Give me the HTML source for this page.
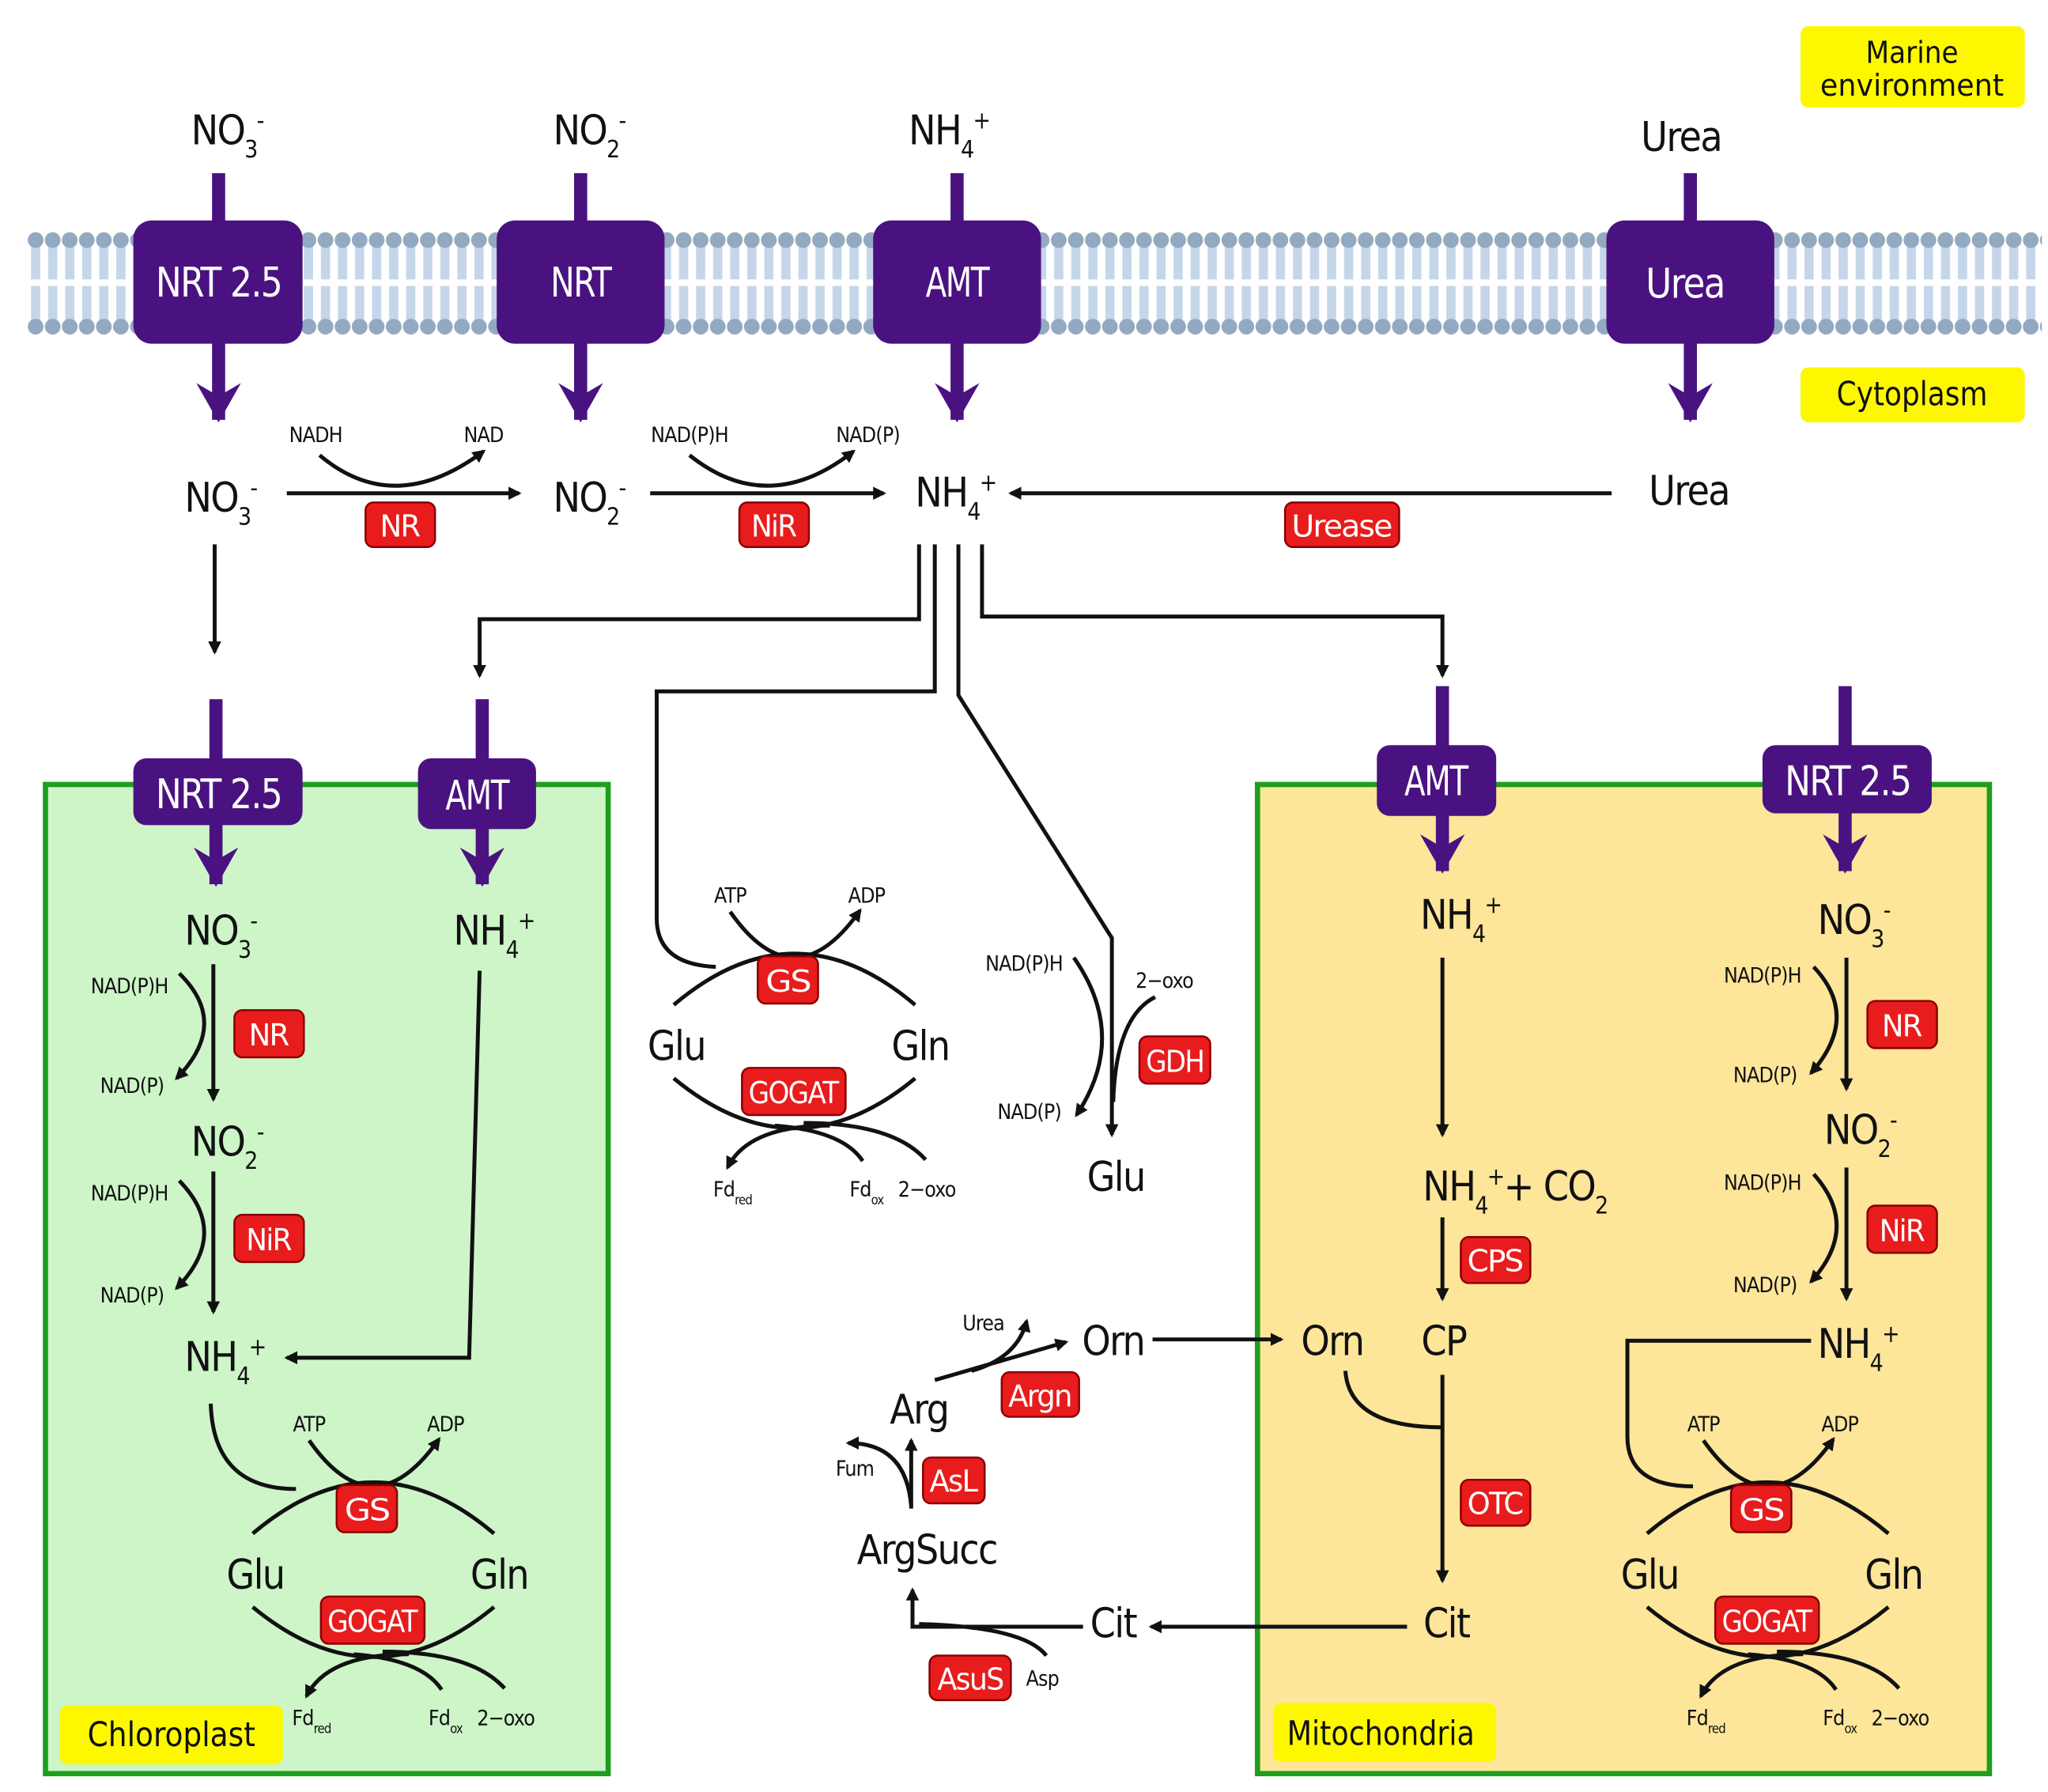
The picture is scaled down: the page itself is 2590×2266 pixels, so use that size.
<!DOCTYPE html>
<html><head><meta charset="utf-8"><style>
html,body{margin:0;padding:0;background:#fff}
svg{display:block}
text{font-family:"DejaVu Sans Condensed","Liberation Sans Narrow","Liberation Sans",sans-serif;font-stretch:condensed;fill:#111}
.b{font-size:31px;letter-spacing:-1px}
.s{font-size:16px;letter-spacing:-0.5px}
.w{fill:#fff;font-size:23px;letter-spacing:-1px}
.p{fill:#fff;font-size:31px;letter-spacing:-1px}
</style></head><body>
<svg width="2590" height="2266" viewBox="0 0 1560 1366" xmlns="http://www.w3.org/2000/svg">
<defs>
<marker id="a" markerWidth="10" markerHeight="10" refX="8" refY="5" orient="auto" markerUnits="userSpaceOnUse"><path d="M0,0 L10,5 L0,10 Z" fill="#111"/></marker>
<marker id="pa" markerWidth="34" markerHeight="30" refX="17" refY="28" orient="0" markerUnits="userSpaceOnUse"><path d="M0,0 L17,10 L34,0 L17,30 Z" fill="#4a1280"/></marker>
<pattern id="mem" x="20" y="176" width="13" height="80" patternUnits="userSpaceOnUse">
<rect x="3" y="8" width="7" height="64" fill="#c5d6ea"/>
<rect x="0" y="37" width="13" height="5" fill="#fff"/>
<circle cx="6.5" cy="7" r="6" fill="#93a9c2"/>
<circle cx="6.5" cy="73" r="6" fill="#93a9c2"/>
</pattern>
<g id="cyc">
<path d="M513 766 Q605 688 697 766" fill="none" stroke="#111" stroke-width="3"/>
<path d="M513 822 Q605 898 697 822" fill="none" stroke="#111" stroke-width="3"/>
<path d="M556 695 Q605 765 655 694" fill="none" stroke="#111" stroke-width="3" marker-end="url(#a)"/>
<path d="M632 858 Q570 858 554 890" fill="none" stroke="#111" stroke-width="3" marker-end="url(#a)"/>
<path d="M590 858 Q642 862 657 885" fill="none" stroke="#111" stroke-width="3"/>
<path d="M612 856 Q680 856 705 884" fill="none" stroke="#111" stroke-width="3"/>
<rect x="577" y="729" width="46" height="36" rx="6" fill="#e81c1c" stroke="#8a0000" stroke-width="1.5"/>
<text x="600" y="756" class="w" text-anchor="middle" textLength="34" lengthAdjust="spacingAndGlyphs">GS</text>
<rect x="565" y="814" width="79" height="36" rx="6" fill="#e81c1c" stroke="#8a0000" stroke-width="1.5"/>
<text x="604" y="841" class="w" text-anchor="middle" textLength="68" lengthAdjust="spacingAndGlyphs">GOGAT</text>
<text x="515" y="808" class="b" text-anchor="middle">Glu</text>
<text x="701" y="808" class="b" text-anchor="middle">Gln</text>
<text x="556" y="688" class="s" text-anchor="middle">ATP</text>
<text x="660" y="688" class="s" text-anchor="middle">ADP</text>
<text x="543" y="912" class="s">Fd<tspan font-size="10" dy="6">red</tspan></text>
<text x="647" y="912" class="s">Fd<tspan font-size="10" dy="6">ox</tspan></text>
<text x="684" y="912" class="s">2−oxo</text>
</g>
</defs>

<rect x="20" y="176" width="1536" height="80" fill="url(#mem)"/>

<rect x="1372" y="20" width="171" height="62" rx="6" fill="#fdf800"/>
<text x="1457" y="48" style="font-size:23px" text-anchor="middle">Marine</text>
<text x="1457" y="73" style="font-size:23px" text-anchor="middle" textLength="140" lengthAdjust="spacingAndGlyphs">environment</text>
<rect x="1372" y="280" width="171" height="42" rx="6" fill="#fdf800"/>
<text x="1457" y="309" style="font-size:25px" text-anchor="middle" textLength="115" lengthAdjust="spacingAndGlyphs">Cytoplasm</text>

<rect x="34" y="598" width="429" height="754" fill="#cdf5c8" stroke="#1d9e1d" stroke-width="4"/>
<rect x="958" y="598" width="558" height="754" fill="#fde59a" stroke="#1d9e1d" stroke-width="4"/>
<rect x="45" y="1300" width="170" height="45" rx="6" fill="#fdf800"/>
<text x="130" y="1331" style="font-size:26px" text-anchor="middle" textLength="128" lengthAdjust="spacingAndGlyphs">Chloroplast</text>
<rect x="970" y="1298" width="170" height="45" rx="6" fill="#fdf800"/>
<text x="1052" y="1330" style="font-size:26px" text-anchor="middle" textLength="143" lengthAdjust="spacingAndGlyphs">Mitochondria</text>

<g stroke="#4a1280" stroke-width="10" fill="none">
<line x1="166" y1="132" x2="166" y2="320" marker-end="url(#pa)"/>
<line x1="442" y1="132" x2="442" y2="320" marker-end="url(#pa)"/>
<line x1="729" y1="132" x2="729" y2="320" marker-end="url(#pa)"/>
<line x1="1288" y1="132" x2="1288" y2="320" marker-end="url(#pa)"/>
<line x1="164" y1="533" x2="164" y2="674" marker-end="url(#pa)"/>
<line x1="367" y1="533" x2="367" y2="674" marker-end="url(#pa)"/>
<line x1="1099" y1="523" x2="1099" y2="664" marker-end="url(#pa)"/>
<line x1="1406" y1="523" x2="1406" y2="664" marker-end="url(#pa)"/>
</g>
<g fill="#4a1280">
<rect x="101" y="168" width="129" height="94" rx="14"/>
<rect x="378" y="168" width="128" height="94" rx="14"/>
<rect x="665" y="168" width="128" height="94" rx="14"/>
<rect x="1224" y="168" width="128" height="94" rx="14"/>
<rect x="101" y="578" width="129" height="51" rx="10"/>
<rect x="318" y="578" width="90" height="54" rx="10"/>
<rect x="1049" y="568" width="91" height="54" rx="10"/>
<rect x="1343" y="568" width="129" height="52" rx="10"/>
</g>
<text x="166" y="226" class="p" text-anchor="middle" textLength="96" lengthAdjust="spacingAndGlyphs">NRT 2.5</text>
<text x="442" y="226" class="p" text-anchor="middle" textLength="46" lengthAdjust="spacingAndGlyphs">NRT</text>
<text x="729" y="226" class="p" text-anchor="middle" textLength="48" lengthAdjust="spacingAndGlyphs">AMT</text>
<text x="1284" y="227" class="p" text-anchor="middle" textLength="60" lengthAdjust="spacingAndGlyphs">Urea</text>
<text x="166" y="616" class="p" text-anchor="middle" textLength="96" lengthAdjust="spacingAndGlyphs">NRT 2.5</text>
<text x="363" y="617" class="p" text-anchor="middle" textLength="48" lengthAdjust="spacingAndGlyphs">AMT</text>
<text x="1094" y="606" class="p" text-anchor="middle" textLength="48" lengthAdjust="spacingAndGlyphs">AMT</text>
<text x="1408" y="606" class="p" text-anchor="middle" textLength="96" lengthAdjust="spacingAndGlyphs">NRT 2.5</text>

<text x="145" y="110" class="b">NO<tspan font-size="18" dy="10">3</tspan><tspan font-size="18" dy="-22">-</tspan></text>
<text x="421" y="110" class="b">NO<tspan font-size="18" dy="10">2</tspan><tspan font-size="18" dy="-22">-</tspan></text>
<text x="692" y="110" class="b">NH<tspan font-size="18" dy="10">4</tspan><tspan font-size="18" dy="-22">+</tspan></text>
<text x="1281" y="115" class="b" text-anchor="middle">Urea</text>

<text x="140" y="390" class="b">NO<tspan font-size="18" dy="10">3</tspan><tspan font-size="18" dy="-22">-</tspan></text>
<text x="421" y="390" class="b">NO<tspan font-size="18" dy="10">2</tspan><tspan font-size="18" dy="-22">-</tspan></text>
<text x="697" y="386" class="b">NH<tspan font-size="18" dy="10">4</tspan><tspan font-size="18" dy="-22">+</tspan></text>
<text x="1287" y="385" class="b" text-anchor="middle">Urea</text>
<g stroke="#111" stroke-width="3" fill="none">
<line x1="218" y1="376" x2="395" y2="376" marker-end="url(#a)"/>
<line x1="495" y1="376" x2="673" y2="376" marker-end="url(#a)"/>
<line x1="1228" y1="376" x2="770" y2="376" marker-end="url(#a)"/>
<path d="M243 347 Q300 395 368 344" marker-end="url(#a)"/>
<path d="M525 347 Q585 395 650 344" marker-end="url(#a)"/>
<line x1="163" y1="415" x2="163" y2="497" marker-end="url(#a)"/>
<path d="M700 415 V472 H365 V515" marker-end="url(#a)"/>
<path d="M712 415 V527 H500 V700 Q500 735 545 737"/>
<path d="M730 415 V530 L847 715 V865" marker-end="url(#a)"/>
<path d="M748 415 V470 H1099 V515" marker-end="url(#a)"/>
<path d="M818 730 Q860 790 820 850" marker-end="url(#a)"/>
<path d="M880 760 Q850 775 848 840"/>
</g>
<text x="240" y="337" class="s" text-anchor="middle">NADH</text>
<text x="368" y="337" class="s" text-anchor="middle">NAD</text>
<text x="525" y="337" class="s" text-anchor="middle">NAD(P)H</text>
<text x="661" y="337" class="s" text-anchor="middle">NAD(P)</text>
<g fill="#e81c1c" stroke="#8a0000" stroke-width="1.5">
<rect x="278" y="383" width="53" height="34" rx="6"/>
<rect x="563" y="383" width="53" height="34" rx="6"/>
<rect x="979" y="383" width="87" height="34" rx="6"/>
<rect x="868" y="790" width="54" height="36" rx="6"/>
<rect x="178" y="770" width="53" height="36" rx="6"/>
<rect x="178" y="926" width="53" height="36" rx="6"/>
<rect x="1423" y="763" width="53" height="36" rx="6"/>
<rect x="1423" y="919" width="53" height="36" rx="6"/>
<rect x="1113" y="943" width="53" height="35" rx="6"/>
<rect x="1113" y="1128" width="53" height="35" rx="6"/>
<rect x="763" y="1046" width="59" height="34" rx="6"/>
<rect x="703" y="1111" width="47" height="35" rx="6"/>
<rect x="708" y="1262" width="62" height="34" rx="6"/>
</g>
<text x="304" y="409" class="w" text-anchor="middle" textLength="30" lengthAdjust="spacingAndGlyphs">NR</text>
<text x="589" y="409" class="w" text-anchor="middle" textLength="34" lengthAdjust="spacingAndGlyphs">NiR</text>
<text x="1022" y="409" class="w" text-anchor="middle" textLength="76" lengthAdjust="spacingAndGlyphs">Urease</text>
<text x="895" y="817" class="w" text-anchor="middle" textLength="44" lengthAdjust="spacingAndGlyphs">GDH</text>
<text x="204" y="797" class="w" text-anchor="middle" textLength="30" lengthAdjust="spacingAndGlyphs">NR</text>
<text x="204" y="953" class="w" text-anchor="middle" textLength="34" lengthAdjust="spacingAndGlyphs">NiR</text>
<text x="1449" y="790" class="w" text-anchor="middle" textLength="30" lengthAdjust="spacingAndGlyphs">NR</text>
<text x="1449" y="946" class="w" text-anchor="middle" textLength="34" lengthAdjust="spacingAndGlyphs">NiR</text>
<text x="1139" y="969" class="w" text-anchor="middle" textLength="42" lengthAdjust="spacingAndGlyphs">CPS</text>
<text x="1139" y="1154" class="w" text-anchor="middle" textLength="42" lengthAdjust="spacingAndGlyphs">OTC</text>
<text x="792" y="1072" class="w" text-anchor="middle" textLength="48" lengthAdjust="spacingAndGlyphs">Argn</text>
<text x="726" y="1137" class="w" text-anchor="middle" textLength="36" lengthAdjust="spacingAndGlyphs">AsL</text>
<text x="739" y="1288" class="w" text-anchor="middle" textLength="50" lengthAdjust="spacingAndGlyphs">AsuS</text>

<use href="#cyc"/>
<text x="780" y="740" class="s" text-anchor="middle">NAD(P)H</text>
<text x="887" y="753" class="s" text-anchor="middle">2−oxo</text>
<text x="784" y="853" class="s" text-anchor="middle">NAD(P)</text>
<text x="850" y="908" class="b" text-anchor="middle">Glu</text>

<use href="#cyc" transform="translate(-321,403)"/>
<text x="140" y="720" class="b">NO<tspan font-size="18" dy="10">3</tspan><tspan font-size="18" dy="-22">-</tspan></text>
<text x="345" y="720" class="b">NH<tspan font-size="18" dy="10">4</tspan><tspan font-size="18" dy="-22">+</tspan></text>
<text x="145" y="881" class="b">NO<tspan font-size="18" dy="10">2</tspan><tspan font-size="18" dy="-22">-</tspan></text>
<text x="140" y="1045" class="b">NH<tspan font-size="18" dy="10">4</tspan><tspan font-size="18" dy="-22">+</tspan></text>
<text x="98" y="757" class="s" text-anchor="middle">NAD(P)H</text>
<text x="100" y="833" class="s" text-anchor="middle">NAD(P)</text>
<text x="98" y="915" class="s" text-anchor="middle">NAD(P)H</text>
<text x="100" y="993" class="s" text-anchor="middle">NAD(P)</text>
<g stroke="#111" stroke-width="3" fill="none">
<line x1="162" y1="735" x2="162" y2="838" marker-end="url(#a)"/>
<line x1="162" y1="893" x2="162" y2="1000" marker-end="url(#a)"/>
<path d="M136 742 Q175 780 134 822" marker-end="url(#a)"/>
<path d="M136 900 Q175 940 134 982" marker-end="url(#a)"/>
<path d="M365 740 L357 1035 H218" marker-end="url(#a)"/>
<path d="M160 1070 Q162 1135 225 1135"/>
</g>

<use href="#cyc" transform="translate(742,403)"/>
<text x="1082" y="708" class="b">NH<tspan font-size="18" dy="10">4</tspan><tspan font-size="18" dy="-22">+</tspan></text>
<text x="1385" y="712" class="b">NO<tspan font-size="18" dy="10">3</tspan><tspan font-size="18" dy="-22">-</tspan></text>
<text x="1390" y="872" class="b">NO<tspan font-size="18" dy="10">2</tspan><tspan font-size="18" dy="-22">-</tspan></text>
<text x="1385" y="1035" class="b">NH<tspan font-size="18" dy="10">4</tspan><tspan font-size="18" dy="-22">+</tspan></text>
<text x="1084" y="915" class="b">NH<tspan font-size="18" dy="10">4</tspan><tspan font-size="18" dy="-22">+</tspan><tspan dy="12">+ CO</tspan><tspan font-size="18" dy="10">2</tspan></text>
<text x="1100" y="1033" class="b" text-anchor="middle">CP</text>
<text x="1015" y="1033" class="b" text-anchor="middle">Orn</text>
<text x="1102" y="1248" class="b" text-anchor="middle">Cit</text>
<text x="1343" y="749" class="s" text-anchor="middle">NAD(P)H</text>
<text x="1345" y="825" class="s" text-anchor="middle">NAD(P)</text>
<text x="1343" y="907" class="s" text-anchor="middle">NAD(P)H</text>
<text x="1345" y="985" class="s" text-anchor="middle">NAD(P)</text>
<g stroke="#111" stroke-width="3" fill="none">
<line x1="1099" y1="730" x2="1099" y2="865" marker-end="url(#a)"/>
<line x1="1099" y1="928" x2="1099" y2="990" marker-end="url(#a)"/>
<line x1="1099" y1="1048" x2="1099" y2="1205" marker-end="url(#a)"/>
<path d="M1025 1045 Q1028 1088 1099 1088"/>
<line x1="1407" y1="730" x2="1407" y2="830" marker-end="url(#a)"/>
<line x1="1407" y1="890" x2="1407" y2="990" marker-end="url(#a)"/>
<path d="M1382 737 Q1418 775 1380 818" marker-end="url(#a)"/>
<path d="M1382 895 Q1418 935 1380 977" marker-end="url(#a)"/>
<path d="M1380 1022 H1240 V1095 Q1240 1133 1290 1133"/>
<line x1="878" y1="1021" x2="976" y2="1021" marker-end="url(#a)"/>
<line x1="1072" y1="1240" x2="877" y2="1240" marker-end="url(#a)"/>
<path d="M825 1240 H695 V1212" marker-end="url(#a)"/>
<path d="M700 1238 Q780 1240 797 1262"/>
<line x1="694" y1="1150" x2="694" y2="1098" marker-end="url(#a)"/>
<path d="M694 1148 Q690 1100 646 1100" marker-end="url(#a)"/>
<line x1="712" y1="1052" x2="812" y2="1023" marker-end="url(#a)"/>
<path d="M740 1045 Q775 1035 782 1007" marker-end="url(#a)"/>
</g>
<text x="848" y="1033" class="b" text-anchor="middle">Orn</text>
<text x="848" y="1248" class="b" text-anchor="middle">Cit</text>
<text x="706" y="1192" class="b" text-anchor="middle">ArgSucc</text>
<text x="700" y="1085" class="b" text-anchor="middle">Arg</text>
<text x="749" y="1014" class="s" text-anchor="middle">Urea</text>
<text x="651" y="1125" class="s" text-anchor="middle">Fum</text>
<text x="794" y="1285" class="s" text-anchor="middle">Asp</text>
</svg>
</body></html>
